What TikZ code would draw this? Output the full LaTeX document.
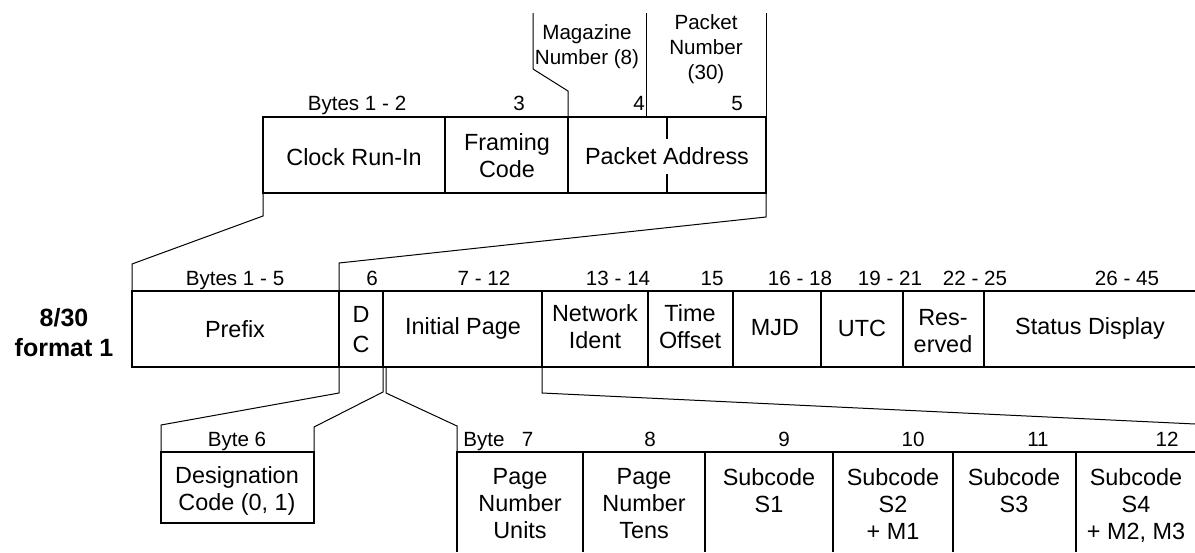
\documentclass[tikz,border=0pt]{standalone}
\usepackage{fontspec}
\setmainfont{Liberation Sans}
\usetikzlibrary{positioning}
\tikzset{>=stealth}

\begin{document}
\begin{tikzpicture}[x=0.5pt, y=-0.5pt,
    frame/.style={line width=1.2pt},
    zoomline/.style={line width=0.5pt},
    cell/.style={font=\fontsize{11.7}{13.5}\selectfont, align=center, inner sep=0pt},
    bytelbl/.style={font=\fontsize{10.3}{12.5}\selectfont, align=center, inner sep=0pt}]
    \useasboundingbox (0,0) rectangle (1195,552);
    % packet header
    \coordinate (hdrNW) at (263,117);
    \coordinate (hdrNE) at (766,117);
    \coordinate (hdrSW) at (263,193);
    \coordinate (hdrSE) at (766,193);
    \coordinate (fcNE) at (568,117);
    \coordinate (magTop) at (533,13);
    \coordinate (pnTop) at (646,13);
    \draw[frame] (hdrNW) rectangle (hdrSE);
    \foreach \x in {445,568} \draw[frame] (\x,117)--(\x,193);
    \draw[frame] (667,117)--(667,139) (667,174)--(667,193);
    \foreach \x/\t in {357/Bytes 1 - 2,519/3,639/4,737/5}
    {
        \node[bytelbl, anchor=base] (hb\x) at (\x,110) {\t};
    }
    \node[cell] (clock) at (354,157) {Clock Run-In};
    \node[cell] (framing) at (507,156) {Framing\\Code};
    \node[cell] (address) at (667,156) {Packet Address};
    \node[bytelbl] (magazine) at (587,47) {Magazine\\Number (8)};
    \node[bytelbl] (pktnum) at (706,49) {Packet\\Number\\(30)};
    \draw[zoomline] (fcNE)--++(0,-26)--([yshift=-28pt]magTop)--(magTop);
    \draw[zoomline] (pnTop)--(pnTop |- hdrNW);
    \draw[zoomline] (hdrNE)--(hdrNE |- magTop);

    % 8/30 format 1
    \coordinate (pfxNW) at (132,291);
    \coordinate (dcNW) at (339,291);
    \coordinate (dcSW) at (339,367);
    \coordinate (dcSE) at (383,367);
    \coordinate (nidSW) at (542,367);
    \draw[frame] (1195,291) -| (132,367) -- (1195,367);
    \foreach \x in {339,383,542,648,733,821,903,984} \draw[frame] (\x,291)--(\x,367);
    \foreach \x/\t in {235/Bytes 1 - 5,372/6,484/7 - 12,618/13 - 14,712/15,800/16 - 18,890/19 - 21,975/22 - 25,1127/26 - 45}
    {
        \node[bytelbl, anchor=base] (mb\x) at (\x,285) {\t};
    }
    \node[font=\fontsize{12.5}{15}\selectfont\bfseries, align=center, inner sep=0pt] (fmt) at (64,333) {8/30\\format 1};
    \node[cell] (prefix) at (235,329) {Prefix};
    \node[cell] (dc) at (361,330) {D\\[1.5pt]C};
    \node[cell] (initial) at (463,328) {Initial Page};
    \node[cell] (network) at (595,327) {Network\\Ident};
    \node[cell] (offset) at (690,327) {Time\\Offset};
    \node[cell] (mjd) at (775,328) {MJD};
    \node[cell] (utc) at (862,328) {UTC};
    \node[cell] (reserved) at (943,331) {Res-\\erved};
    \node[cell] (status) at (1090,328) {Status Display};
    \draw[zoomline] (hdrSW)--++(0,23)--([yshift=13.5pt]pfxNW)--(pfxNW);
    \draw[zoomline] (hdrSE)--++(0,24)--([yshift=14pt]dcNW)--(dcNW);

    % byte 6
    \coordinate (desNW) at (161,452);
    \coordinate (desNE) at (314,452);
    \draw[frame] (desNW) rectangle (314,523);
    \node[bytelbl, anchor=base] (b6) at (237,446) {Byte 6};
    \node[cell, anchor=north] (designation) at (237,466) {Designation\\Code (0, 1)};
    \draw[zoomline] (dcSW)--++(0,26)--([yshift=13.5pt]desNW)--(desNW);
    \draw[zoomline] (dcSE)--++(0,25)--([yshift=12.5pt]desNE)--(desNE);

    % bytes 7 - 12
    \coordinate (pgNW) at (457,452);
    \coordinate (rowEnd) at (1195,424);
    \draw[frame] (1195,452) -| (457,552);
    \foreach \x in {583,705,833,953,1076} \draw[frame] (\x,452)--(\x,552);
    \node[bytelbl, anchor=base west] (b7) at (463,446) {Byte~~~7};
    \foreach \x/\t in {650/8,784/9,913/10,1038/11,1167/12}
    {
        \node[bytelbl, anchor=base] (lb\x) at (\x,446) {\t};
    }
    \node[cell, anchor=north] (units) at (520,468) {Page\\Number\\Units};
    \node[cell, anchor=north] (tens) at (644,468) {Page\\Number\\Tens};
    \node[cell, anchor=north] (s1) at (769,468) {Subcode\\S1};
    \node[cell, anchor=north] (s2) at (893,468) {Subcode\\S2\\+ M1};
    \node[cell, anchor=north] (s3) at (1014,468) {Subcode\\S3};
    \node[cell, anchor=north] (s4) at (1136,468) {Subcode\\S4\\+ M2, M3};
    \draw[zoomline] ([xshift=1.5pt]dcSE)--++(0,26)--([yshift=13pt]pgNW)--(pgNW);
    \draw[zoomline] (nidSW)--++(0,26)--(rowEnd);
\end{tikzpicture}
\end{document}
